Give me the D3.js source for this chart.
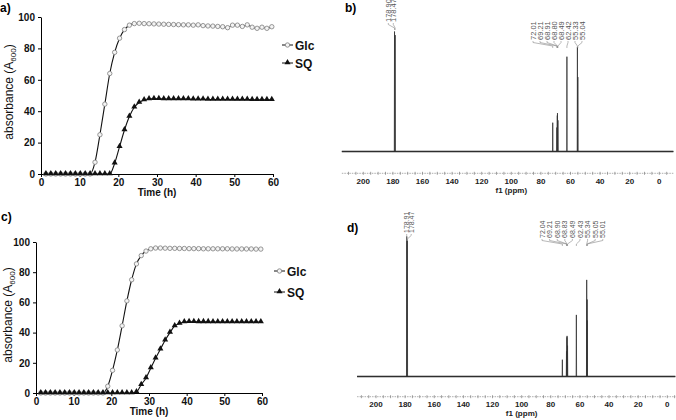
<!DOCTYPE html>
<html><head><meta charset="utf-8">
<script src="https://cdn.jsdelivr.net/npm/d3@7"></script>
<style>body{margin:0;background:#fff} svg{display:block} text{font-family:"Liberation Sans",Arial,sans-serif}</style>
</head><body><svg id="c" width="676" height="420"></svg>
<script>
// ---------- growth curve data ----------
const timeH=[1.27,2.54,3.81,5.08,6.35,7.62,8.89,10.16,11.43,12.70,13.97,15.24,16.51,17.78,19.05,20.32,21.59,22.86,24.13,25.40,26.67,27.94,29.21,30.48,31.75,33.02,34.29,35.56,36.83,38.10,39.37,40.64,41.91,43.18,44.45,45.72,46.99,48.26,49.53,50.80,52.07,53.34,54.61,55.88,57.15,58.42,59.69];
const glcA=[0,0,0,0,0,0,0,0,0,0,7.5,25,44.5,64,77.5,86.5,92,94.8,95.8,96,95.8,95.7,95.6,95.5,95.4,95.3,95.2,95.1,95,95,94.8,95,94.5,94.3,94.2,94,93.8,93.2,94.8,94.8,94,95,93.5,92.8,93.5,92.8,93.8];
const sqA=[0,0,0,0,0,0,0,0,0,0,0,0,0,0,6.8,17.4,28,36.6,42.5,45.5,47.2,47.8,48,47.9,47.8,47.8,47.8,47.7,47.7,47.7,47.6,47.6,47.6,47.5,47.5,47.5,47.5,47.5,47.4,47.4,47.4,47.4,47.3,47.3,47.3,47.3,47.3];
const glcC=[0,0,0,0,0,0,0,0,0,0,0,0,0,0,4.5,15,28.5,44.5,61,75,85.5,91,94,95.5,96,96,95.9,95.8,95.8,95.7,95.7,95.6,95.6,95.6,95.5,95.5,95.5,95.5,95.5,95.5,95.4,95.4,95.4,95.4,95.4,95.3,95.3];
const sqC=[0,0,0,0,0,0,0,0,0,0,0,0,0,0,0,0,0,0,0,0,0.7,5.5,10,16.5,23,29,35,40,44.4,46,47,47.2,47.2,47.1,47.1,47.1,47,47,47,47,47,47,47,47,47,47,47];
const absTicks=[0,20,40,60,80,100];
const timeTicks=[0,10,20,30,40,50,60];
const seriesNames=["Glc","SQ"];
// ---------- NMR data ----------
const ppmTicks=[200,180,160,140,120,100,80,60,40,20,0];
const peakLabelsB=[["178.90","178.47"],["72.01","69.21","68.91","68.80","68.49","62.42","55.33","55.04"]];
const peakPpmB=[178.90,178.47,72.01,69.21,68.91,68.80,68.49,62.42,55.33,55.04];
const peakIntB=[100,97,24,20,30,32,26,79,87,62];
const peakLabelsD=[["178.91","178.47"],["72.04","69.21","68.90","68.83","68.49","62.43","55.34","55.05","55.01"]];
const peakPpmD=[178.91,178.47,72.04,69.21,68.90,68.83,68.49,62.43,55.34,55.05,55.01];
const peakIntD=[100,97,12,18,28,29,22,44,69,55,40];

const svg=d3.select("#c");

function growth(L, glc, sq){
  const g=svg.append("g");
  const x=d3.scaleLinear().domain([0,60]).range([L.x0,L.x1]);
  const y=d3.scaleLinear().domain([0,100]).range([L.y0,L.y1]);
  const ax=g.append("g").attr("transform",`translate(0,${L.y0})`)
    .call(d3.axisBottom(x).tickValues(timeTicks).tickSize(3).tickSizeOuter(0).tickPadding(2));
  const ay=g.append("g").attr("transform",`translate(${L.x0},0)`)
    .call(d3.axisLeft(y).tickValues(absTicks).tickSize(3).tickSizeOuter(0).tickPadding(3));
  [ax,ay].forEach(a=>{
    a.select(".domain").attr("stroke","#000");
    a.selectAll(".tick line").attr("stroke","#000");
    a.selectAll(".tick text").attr("font-size",10).attr("font-weight","bold").attr("fill","#111")
      .style("font-family","Liberation Sans, Arial, sans-serif");
  });
  g.append("text").attr("x",(L.x0+L.x1)/2).attr("y",L.y0+22).attr("text-anchor","middle")
    .attr("font-size",10).attr("font-weight","bold").attr("fill","#111").text("Time (h)");
  const yl=g.append("text").attr("transform",`translate(${L.ylx},${L.yly}) rotate(-90)`)
    .attr("text-anchor","middle").attr("font-size",12).attr("fill","#111");
  yl.append("tspan").text("absorbance (A");
  yl.append("tspan").attr("font-size",8).attr("dy",3).text("600");
  yl.append("tspan").attr("dy",-3).text(")");
  g.append("text").attr("x",L.lx).attr("y",L.ly).attr("font-size",12).attr("font-weight","bold").text(L.letter);

  const idx=d3.range(timeH.length);
  const mk=(vals)=>d3.line().x(i=>x(timeH[i])).y(i=>y(vals[i])).curve(d3.curveMonotoneX);
  g.append("path").attr("d",mk(glc)(idx)).attr("fill","none").attr("stroke","#111").attr("stroke-width",1.1);
  g.append("path").attr("d",mk(sq)(idx)).attr("fill","none").attr("stroke","#111").attr("stroke-width",1.1);
  const tri=d3.symbol().type(d3.symbolTriangle).size(16);
  g.selectAll(".c").data(idx).enter().append("circle")
    .attr("cx",i=>x(timeH[i])).attr("cy",i=>y(glc[i])).attr("r",2.2)
    .attr("fill","#f4f4f4").attr("stroke","#8a8a8a").attr("stroke-width",0.9);
  g.selectAll(".t").data(idx).enter().append("path")
    .attr("d",tri).attr("transform",i=>`translate(${x(timeH[i])},${y(sq[i])-0.5})`).attr("fill","#111");
  // legend
  seriesNames.forEach((n,k)=>{
    const ly=L.legY[k];
    g.append("line").attr("x1",L.legX).attr("x2",L.legX+11).attr("y1",ly).attr("y2",ly).attr("stroke","#111");
    if(k===0) g.append("circle").attr("cx",L.legX+5.5).attr("cy",ly).attr("r",2.2).attr("fill","#f4f4f4").attr("stroke","#8a8a8a").attr("stroke-width",0.9);
    else g.append("path").attr("d",tri).attr("transform",`translate(${L.legX+5.5},${ly-0.5})`).attr("fill","#111");
    g.append("text").attr("x",L.legX+13).attr("y",ly+4.5).attr("font-size",12).attr("font-weight","bold").attr("fill","#111").text(n);
  });
}

function nmr(L, labels, ppms, ints){
  const g=svg.append("g");
  const x=d3.scaleLinear().domain([200,0]).range([L.x200,L.x0]);
  const y=d3.scaleLinear().domain([0,100]).range([L.base,L.top]);
  // axis
  g.append("line").attr("x1",x(L.pmax)).attr("x2",x(L.pmin)).attr("y1",L.axisY).attr("y2",L.axisY)
    .attr("stroke","#9a9a9a").attr("stroke-width",0.8).attr("stroke-dasharray","1.5,1");
  const minor=d3.range(210,-6,-5).filter(p=>p<=L.pmax&&p>=L.pmin);
  g.selectAll(".mt").data(minor).enter().append("line")
    .attr("x1",p=>x(p)).attr("x2",p=>x(p)).attr("y1",L.axisY-1.5).attr("y2",L.axisY+1.5)
    .attr("stroke","#8a8a8a").attr("stroke-width",0.8);
  g.selectAll(".tl").data(ppmTicks).enter().append("text")
    .attr("x",p=>x(p)).attr("y",L.axisY+10.5).attr("text-anchor","middle")
    .attr("font-size",8).attr("font-weight","bold").attr("fill","#222").text(p=>p);
  g.append("text").attr("x",x(100)).attr("y",L.axisY+19.5).attr("text-anchor","middle")
    .attr("font-size",8).attr("font-weight","bold").attr("fill","#222").text("f1 (ppm)");
  // baseline
  g.append("line").attr("x1",x(L.pmax)).attr("x2",x(L.pmin)).attr("y1",L.base).attr("y2",L.base)
    .attr("stroke","#1a1a1a").attr("stroke-width",1.7);
  // peaks
  const order=d3.range(ppms.length).sort((a,b)=>ppms[b]-ppms[a]);
  const pts=[[L.pmax,0]];
  order.forEach(i=>{pts.push([ppms[i]+0.15,0],[ppms[i],ints[i]],[ppms[i]-0.15,0]);});
  pts.push([L.pmin,0]);
  g.append("path").attr("d",d3.line().x(d=>x(d[0])).y(d=>y(d[1]))(pts))
    .attr("fill","none").attr("stroke","#333").attr("stroke-width",0.8);
  // labels
  labels.forEach((grp,gi)=>{
    const lay=L.groups[gi];
    grp.forEach((t,k)=>{
      const tx=lay.x0+k*lay.dx, tb=lay.bottom, px=x(+t);
      g.append("text").attr("transform",`translate(${tx+2.5},${tb}) rotate(-90)`)
        .attr("font-size",lay.fs).attr("fill","#555").text(t);
      g.append("path").attr("d",`M${tx},${tb+1}L${tx},${tb+2.5}L${px},${tb+6}L${px},${tb+8}`)
        .attr("fill","none").attr("stroke","#888").attr("stroke-width",0.6);
    });
  });
  g.append("text").attr("x",L.lx).attr("y",L.ly).attr("font-size",12).attr("font-weight","bold").text(L.letter);
}

growth({x0:41,x1:273,y0:174,y1:17,ylx:13,yly:92,lx:0,ly:12,letter:"a)",legX:282,legY:[45,63]},glcA,sqA);
growth({x0:36,x1:262,y0:393,y1:242,ylx:12,yly:315,lx:1,ly:221,letter:"c)",legX:274,legY:[271,292]},glcC,sqC);
nmr({x200:363.3,x0:659.3,base:151.5,top:31.5,axisY:173.3,pmax:214.5,pmin:-9.5,lx:345,ly:12,letter:"b)",
     groups:[{x0:388.3,dx:5,bottom:22,fs:7.5},{x0:533,dx:7,bottom:40,fs:7.5}]},peakLabelsB,peakPpmB,peakIntB);
nmr({x200:376,x0:667.3,base:376.5,top:236.5,axisY:396.7,pmax:213,pmin:-5.5,lx:347,ly:232,letter:"d)",
     groups:[{x0:406.7,dx:4.5,bottom:233,fs:7},{x0:542,dx:7.6,bottom:238,fs:7}]},peakLabelsD,peakPpmD,peakIntD);
</script></body></html>
